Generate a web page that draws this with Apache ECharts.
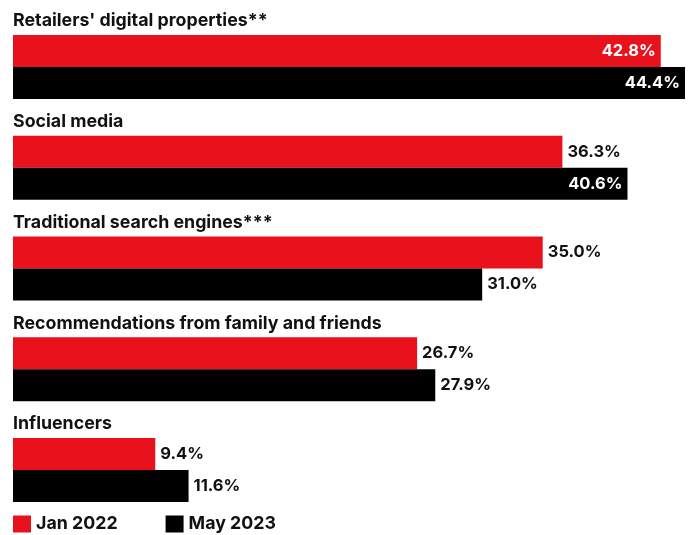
<!DOCTYPE html>
<html>
<head>
<meta charset="utf-8">
<script src="https://cdn.jsdelivr.net/npm/echarts@6/dist/echarts.min.js"></script>
<style>
  html, body { margin: 0; padding: 0; background: #fff; }
  #chart { width: 693px; height: 535px; }
</style>
</head>
<body>
<div id="chart"></div>
<script>
// Channels, shares of respondents (%)
const categories = [
  "Retailers' digital properties**",
  "Social media",
  "Traditional search engines***",
  "Recommendations from family and friends",
  "Influencers"
];
const seriesNames = ["Jan 2022", "May 2023"];
const jan2022 = [42.8, 36.3, 35.0, 26.7, 9.4];
const may2023 = [44.4, 40.6, 31.0, 27.9, 11.6];

const RED = '#E8111C';
const BLACK = '#000000';
const FONT = 'Inter, "Noto Sans", sans-serif';

// Long bars carry their value label inside in white; others sit just past the bar end.
function buildData(values) {
  return values.map(v => {
    const inside = v >= 40;
    return {
      value: v,
      label: inside
        ? { position: 'insideRight', color: '#fff', distance: 5 }
        : { position: 'right', color: '#111', distance: 5 }
    };
  });
}

const valueLabel = {
  show: true,
  formatter: p => p.value.toFixed(1) + '%',
  fontFamily: FONT,
  fontWeight: 700,
  fontSize: 16.5
};

const chart = echarts.init(document.getElementById('chart'), null, { renderer: 'canvas' });

chart.setOption({
  animation: false,
  backgroundColor: '#fff',
  grid: { left: 13, right: 8, top: 16.6, bottom: 14.65, containLabel: false },
  xAxis: {
    type: 'value', min: 0, max: 44.4,
    show: false
  },
  yAxis: {
    type: 'category',
    data: categories,
    inverse: true,
    axisLine: { show: false },
    axisTick: { show: false },
    splitLine: { show: false },
    axisLabel: {
      inside: true,
      margin: 0,
      align: 'left',
      verticalAlign: 'bottom',
      lineHeight: 20,
      padding: [0, 0, 36, 0],
      color: '#111',
      fontFamily: FONT,
      fontWeight: 700,
      fontSize: 17.8
    }
  },
  legend: {
    left: 13,
    top: 515,
    padding: 0,
    itemWidth: 18,
    itemHeight: 17,
    itemGap: 48,
    icon: 'rect',
    textStyle: { fontFamily: FONT, fontWeight: 700, fontSize: 17.8, color: '#111' },
    data: seriesNames
  },
  series: [
    {
      name: seriesNames[0],
      type: 'bar',
      barWidth: 32,
      barGap: '0%',
      itemStyle: { color: RED },
      label: valueLabel,
      data: buildData(jan2022)
    },
    {
      name: seriesNames[1],
      type: 'bar',
      barWidth: 32,
      barGap: '0%',
      itemStyle: { color: BLACK },
      label: valueLabel,
      data: buildData(may2023)
    }
  ]
});
</script>
</body>
</html>
